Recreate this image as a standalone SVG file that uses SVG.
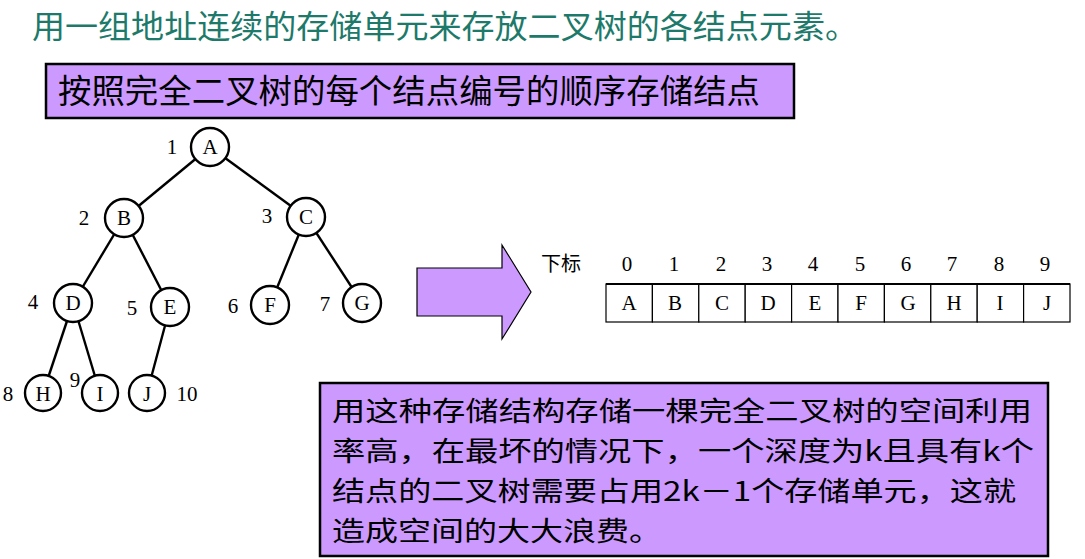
<svg xmlns="http://www.w3.org/2000/svg" width="1085" height="559" viewBox="0 0 1085 559">
<style>
.cjk{font-family:"Noto Sans CJK SC","Noto Sans",sans-serif;}
.ser{font-family:"Liberation Serif","Times New Roman",serif;font-size:21px;fill:#000;text-anchor:middle;dominant-baseline:central;}
.box{fill:#cc99ff;stroke:#000;stroke-width:2.5;}
.node circle{fill:#fff;stroke:#000;stroke-width:2.4;}
.edge{stroke:#000;stroke-width:2.4;}
.cell{fill:#fff;stroke:#000;stroke-width:1.2;}
.b2{font-size:27.5px;fill:#000;}
</style>
<rect width="1085" height="559" fill="#fff"/>
<text class="cjk" x="32" y="38" font-size="32" fill="#1d7a6a" textLength="826" lengthAdjust="spacingAndGlyphs">用一组地址连续的存储单元来存放二叉树的各结点元素。</text>
<g id="box1">
<rect class="box" x="46" y="64" width="748" height="54"/>
<text class="cjk" x="58" y="103" font-size="33" fill="#000" textLength="702" lengthAdjust="spacingAndGlyphs">按照完全二叉树的每个结点编号的顺序存储结点</text>
</g>
<g id="connectors">
<line class="edge" x1="210" y1="147" x2="124" y2="218"/>
<line class="edge" x1="210" y1="147" x2="306" y2="217"/>
<line class="edge" x1="124" y1="218" x2="73" y2="303"/>
<line class="edge" x1="124" y1="218" x2="170" y2="307"/>
<line class="edge" x1="306" y1="217" x2="270" y2="305"/>
<line class="edge" x1="306" y1="217" x2="362" y2="303"/>
<line class="edge" x1="73" y1="303" x2="43" y2="393"/>
<line class="edge" x1="73" y1="303" x2="100" y2="393"/>
<line class="edge" x1="170" y1="307" x2="147" y2="393"/>
</g>
<g id="nodeA" class="node"><circle cx="210" cy="147" r="19"/><text class="ser" x="210" y="147">A</text><text class="ser" x="172" y="147">1</text></g>
<g id="nodeB" class="node"><circle cx="124" cy="218" r="19"/><text class="ser" x="124" y="218">B</text><text class="ser" x="84" y="218">2</text></g>
<g id="nodeC" class="node"><circle cx="306" cy="217" r="19"/><text class="ser" x="306" y="217">C</text><text class="ser" x="267" y="216">3</text></g>
<g id="nodeD" class="node"><circle cx="73" cy="303" r="19"/><text class="ser" x="73" y="303">D</text><text class="ser" x="33" y="302">4</text></g>
<g id="nodeE" class="node"><circle cx="170" cy="307" r="19"/><text class="ser" x="170" y="307">E</text><text class="ser" x="132" y="308">5</text></g>
<g id="nodeF" class="node"><circle cx="270" cy="305" r="19"/><text class="ser" x="270" y="305">F</text><text class="ser" x="233" y="306">6</text></g>
<g id="nodeG" class="node"><circle cx="362" cy="303" r="19"/><text class="ser" x="362" y="303">G</text><text class="ser" x="325" y="304">7</text></g>
<g id="nodeH" class="node"><circle cx="43" cy="393" r="18"/><text class="ser" x="43" y="394">H</text><text class="ser" x="8" y="394">8</text></g>
<g id="nodeI" class="node"><circle cx="100" cy="393" r="18"/><text class="ser" x="100" y="394">I</text><text class="ser" x="75" y="380">9</text></g>
<g id="nodeJ" class="node"><circle cx="147" cy="393" r="18"/><text class="ser" x="147" y="394">J</text><text class="ser" x="187" y="394">10</text></g>
<g id="arrow">
<polygon points="417,268 502,268 502,245 531,292 502,339 502,316 417,316" fill="#cc99ff" stroke="#000" stroke-width="1.2"/>
</g>
<g id="array">
<text class="cjk" x="541" y="271" font-size="20" fill="#000">下标</text>
<rect class="cell" x="606" y="284" width="46.4" height="38"/>
<rect class="cell" x="652.4" y="284" width="46.4" height="38"/>
<rect class="cell" x="698.8" y="284" width="46.4" height="38"/>
<rect class="cell" x="745.2" y="284" width="46.4" height="38"/>
<rect class="cell" x="791.6" y="284" width="46.4" height="38"/>
<rect class="cell" x="838" y="284" width="46.4" height="38"/>
<rect class="cell" x="884.4" y="284" width="46.4" height="38"/>
<rect class="cell" x="930.8" y="284" width="46.4" height="38"/>
<rect class="cell" x="977.2" y="284" width="46.4" height="38"/>
<rect class="cell" x="1023.6" y="284" width="46.4" height="38"/>
<line x1="606" y1="284" x2="1070" y2="284" stroke="#000" stroke-width="2"/>
<text class="ser" x="629" y="303">A</text>
<text class="ser" x="675" y="303">B</text>
<text class="ser" x="722" y="303">C</text>
<text class="ser" x="768" y="303">D</text>
<text class="ser" x="815" y="303">E</text>
<text class="ser" x="861" y="303">F</text>
<text class="ser" x="908" y="303">G</text>
<text class="ser" x="954" y="303">H</text>
<text class="ser" x="1000" y="303">I</text>
<text class="ser" x="1047" y="303">J</text>
<text class="ser" x="627" y="264">0</text>
<text class="ser" x="674" y="264">1</text>
<text class="ser" x="721" y="264">2</text>
<text class="ser" x="767" y="264">3</text>
<text class="ser" x="813" y="264">4</text>
<text class="ser" x="860" y="264">5</text>
<text class="ser" x="906" y="264">6</text>
<text class="ser" x="952" y="264">7</text>
<text class="ser" x="999" y="264">8</text>
<text class="ser" x="1045" y="264">9</text>
</g>
<g id="box2">
<rect class="box" x="320" y="383" width="728" height="173"/>
<text class="cjk b2" x="332" y="421" textLength="700" lengthAdjust="spacingAndGlyphs">用这种存储结构存储一棵完全二叉树的空间利用</text>
<text class="cjk b2" x="332" y="461" textLength="702" lengthAdjust="spacingAndGlyphs">率高，在最坏的情况下，一个深度为k且具有k个</text>
<text class="cjk b2" x="332" y="501" textLength="684" lengthAdjust="spacingAndGlyphs">结点的二叉树需要占用2k－1个存储单元，这就</text>
<text class="cjk b2" x="332" y="541" textLength="330" lengthAdjust="spacingAndGlyphs">造成空间的大大浪费。</text>
</g>
</svg>
